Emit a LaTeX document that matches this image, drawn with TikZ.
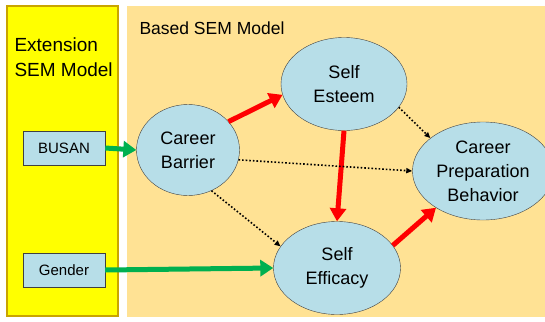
\documentclass[tikz,border=0pt]{standalone}
\usepackage{fontspec}
\setmainfont{Liberation Sans}
\usepackage{tikz}
\usetikzlibrary{shapes.geometric,arrows.meta}

\definecolor{extyellow}{HTML}{FFFF00}
\definecolor{extborder}{HTML}{C9A400}
\definecolor{basefill}{HTML}{FFE294}
\definecolor{varfill}{HTML}{B7DEE8}
\definecolor{pathred}{HTML}{FF0000}
\definecolor{pathgreen}{HTML}{00B050}

\tikzset{
	latent/.style={ellipse,draw=black!75,fill=varfill,align=center,font=\fontsize{18}{24}\selectfont},
	observed/.style={rectangle,draw=black!75,fill=varfill,minimum width=82pt,minimum height=34pt,font=\fontsize{15}{17}\selectfont},
	redpath/.style={pathred,line width=5pt,-{Triangle[length=13pt,width=16pt]}},
	greenpath/.style={pathgreen,line width=5pt,-{Triangle[length=13pt,width=16pt]}},
	dotpath/.style={black,line width=1.6pt,dotted,-{Triangle[length=6pt,width=5pt]}},
}

\begin{document}
\begin{tikzpicture}[x=1pt,y=-1pt]
	\useasboundingbox [fill=white] (0,0) rectangle (545,321);
	
	% panels
	\fill [basefill] (127,6) rectangle (545,317);
	\draw [fill=extyellow,draw=extborder,line width=2pt] (7,6) rectangle (118,316);
	\node (ext) [align=left,anchor=north west,font=\fontsize{19}{25}\selectfont] at (11,34) {Extension\\SEM Model};
	\node (base) [anchor=west,font=\fontsize{17.5}{20}\selectfont] at (136,28) {Based SEM Model};
	
	% observed variables
	\node (busan) [observed] at (64,148) {BUSAN};
	\node (gender) [observed] at (64,270) {Gender};
	
	% latent variables
	\node (barrier) [latent,minimum width=103pt,minimum height=91pt] at (188,150) {Career\\Barrier};
	\node (esteem) [latent,minimum width=126pt,minimum height=93pt] at (344,84) {Self\\Esteem};
	\node (efficacy) [latent,minimum width=127pt,minimum height=93pt] at (337,268) {Self\\Efficacy};
	\node (prep) [latent,minimum width=114pt,minimum height=98pt] at (483,171) {Career\\Preparation\\Behavior};
	
	% paths
	\draw [greenpath] (busan.east) -- (barrier.west);
	\draw [greenpath] (gender.east) -- (efficacy.west);
	\draw [redpath] (barrier.35) -- (esteem.190);
	\draw [redpath] (esteem.south) -- (efficacy.north);
	\draw [redpath] (efficacy.22) -- (prep.218);
	\draw [dotpath] (esteem.337) -- (prep.148);
	\draw [dotpath] (barrier.349) -- (prep.west);
	\draw [dotpath] (barrier.300) -- (efficacy.159);
	
\end{tikzpicture}
\end{document}
